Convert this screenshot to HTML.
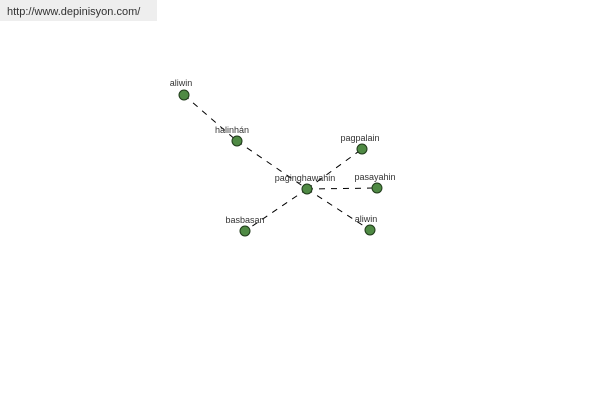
<!DOCTYPE html>
<html><head><style>body{margin:0;background:#fff}svg{display:block}</style></head><body>
<svg width="600" height="400" xmlns="http://www.w3.org/2000/svg" font-family="Liberation Sans, sans-serif">
<rect x="0" y="0" width="157" height="21" fill="#eeeeee"/>
<text x="7" y="15" font-size="11" fill="#333">http://www.depinisyon.com/</text>
<g stroke="#000" stroke-width="1" stroke-dasharray="6,6">
<line x1="184" y1="95" x2="237" y2="141"/>
<line x1="237" y1="141" x2="307" y2="189"/>
<line x1="307" y1="189" x2="362" y2="149"/>
<line x1="307" y1="189" x2="377" y2="188"/>
<line x1="307" y1="189" x2="245" y2="231"/>
<line x1="307" y1="189" x2="370" y2="230"/>
</g>
<g fill="#4f8a44" stroke="#1f3a1a" stroke-width="1">
<circle cx="184" cy="95" r="5"/><circle cx="237" cy="141" r="5"/><circle cx="307" cy="189" r="5"/>
<circle cx="362" cy="149" r="5"/><circle cx="377" cy="188" r="5"/><circle cx="245" cy="231" r="5"/><circle cx="370" cy="230" r="5"/>
</g>
<g font-size="9" fill="#333" text-anchor="middle">
<text x="181" y="86">aliwin</text>
<text x="232" y="133">halinhán</text>
<text x="305" y="181">paginghawahin</text>
<text x="360" y="141">pagpalain</text>
<text x="375" y="180">pasayahin</text>
<text x="245" y="223">basbasan</text>
<text x="366" y="222">aliwin</text>
</g>
</svg>
</body></html>
